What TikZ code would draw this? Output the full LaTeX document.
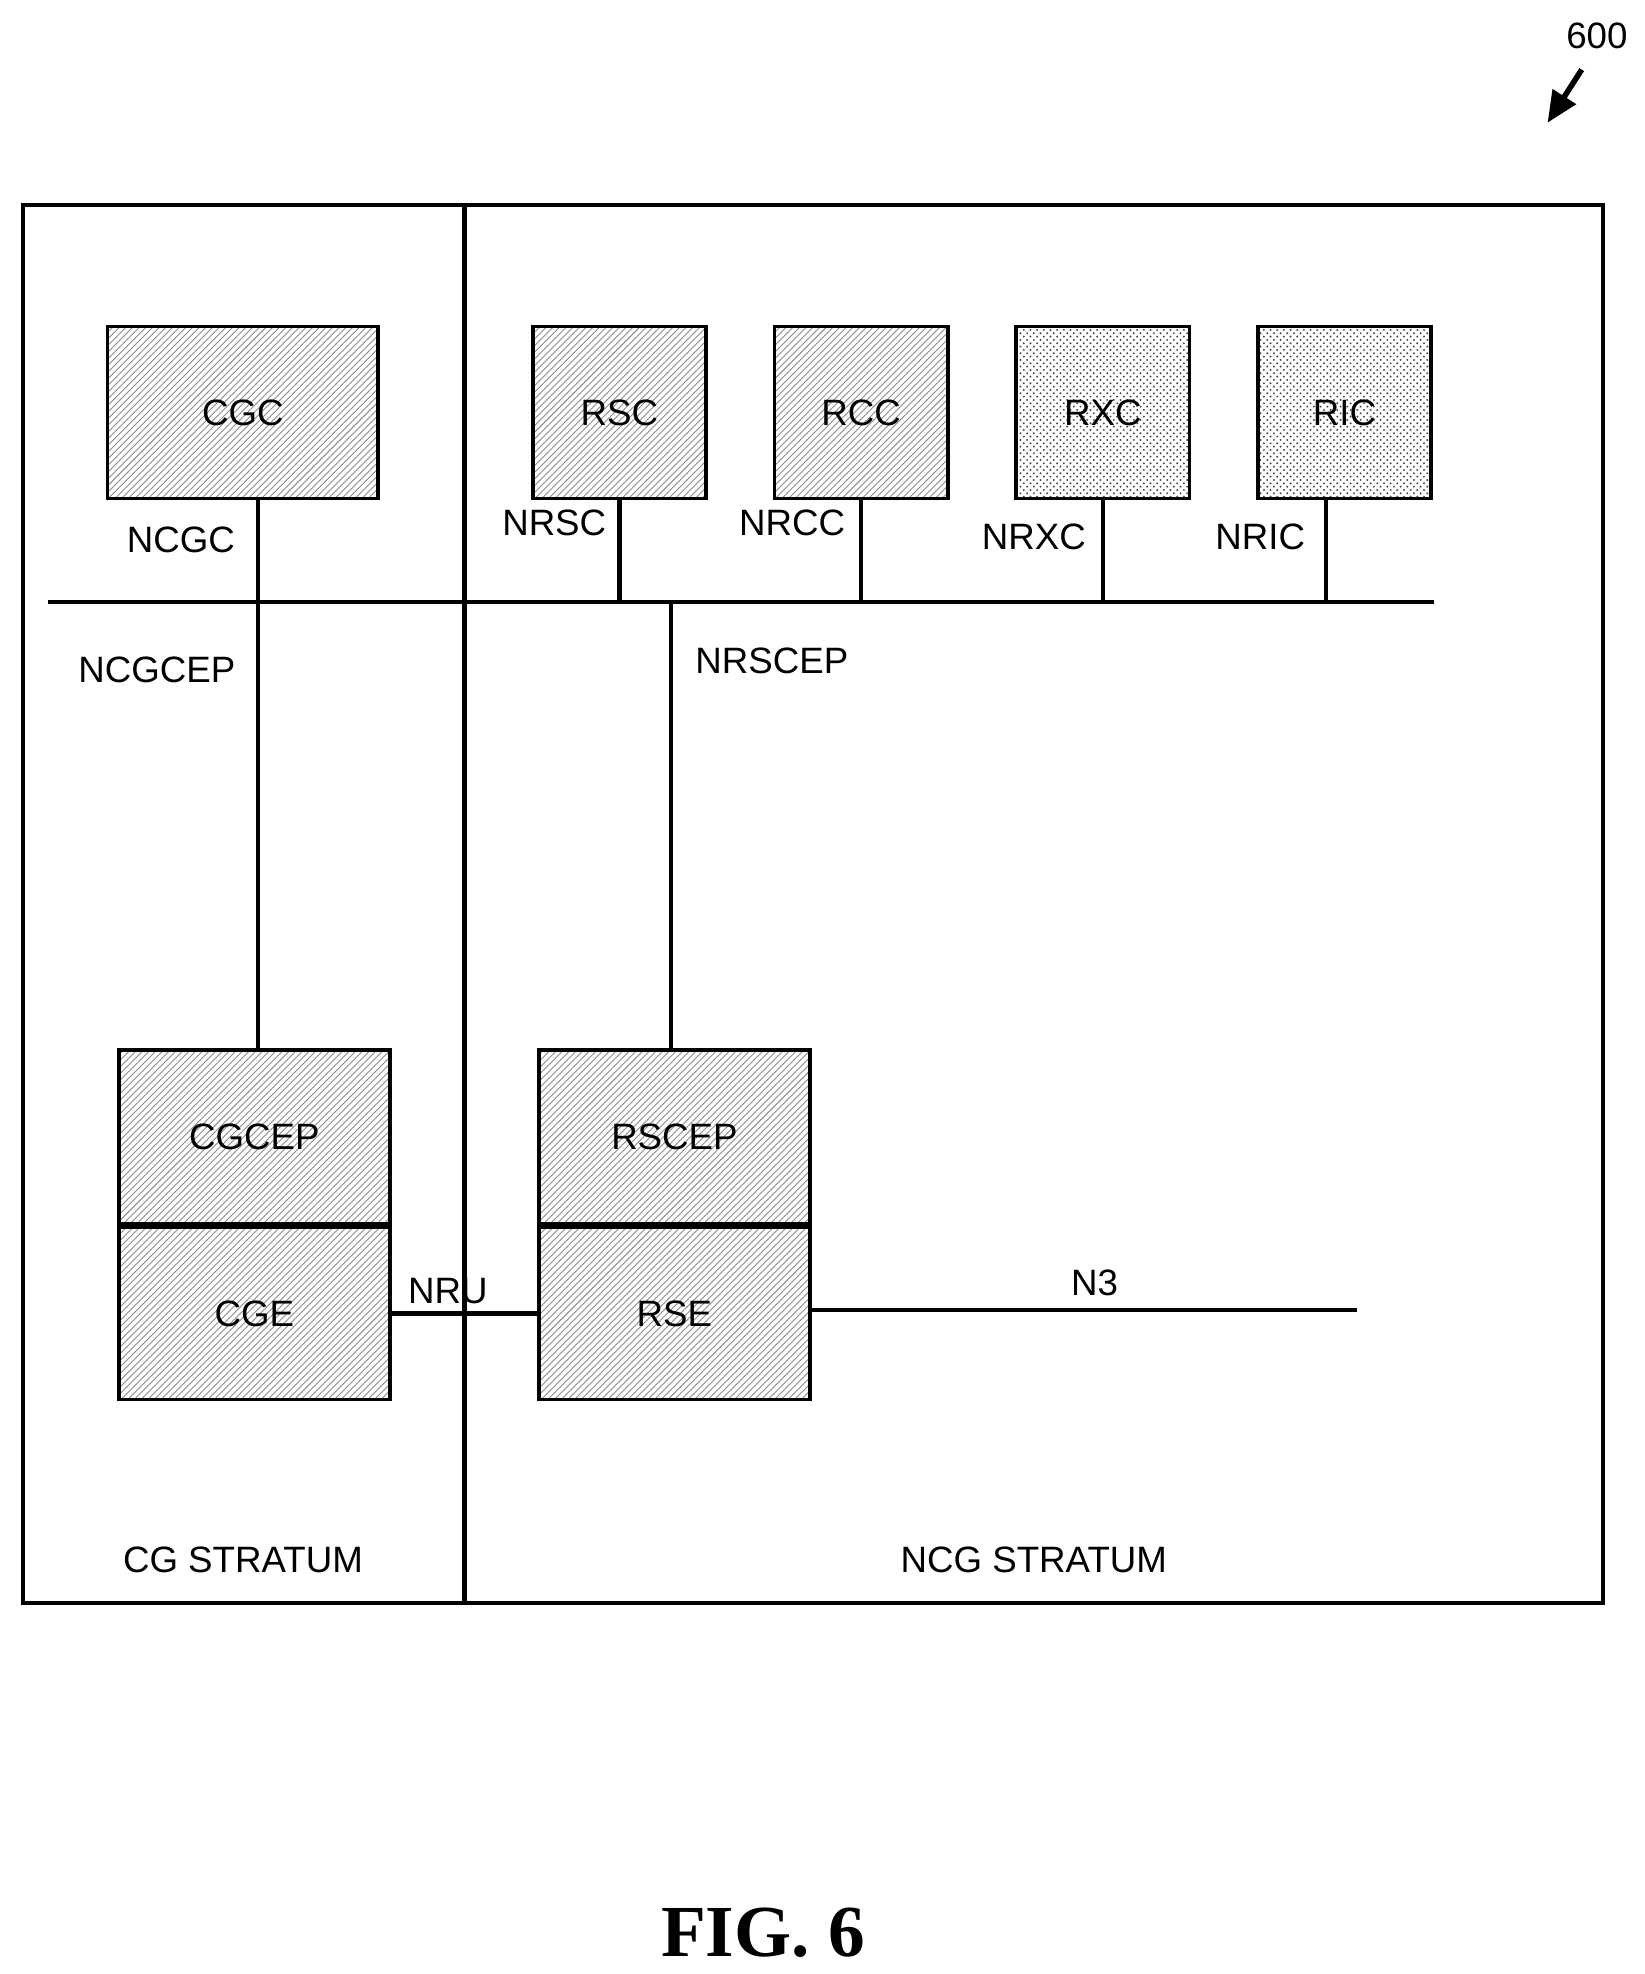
\documentclass[tikz,border=0pt]{standalone}
\usepackage{fontspec}
\setmainfont{Liberation Sans}
\newfontfamily\figfont{Liberation Serif}
\usetikzlibrary{positioning,patterns,arrows.meta}
\tikzset{
  blk/.style={draw,line width=1.7pt,pattern=north east lines,pattern color=black!45,
    inner sep=0pt,font=\fontsize{16.5}{20}\selectfont},
  dotblk/.style={blk,pattern=crosshatch dots,pattern color=black!70},
  lbl/.style={font=\fontsize{16.5}{20}\selectfont,inner sep=0pt},
  wire/.style={line width=1.9pt}
}
\begin{document}
\begin{tikzpicture}[x=0.02cm,y=-0.02cm]
\useasboundingbox (0,0) rectangle (1300,1560);
% strata
\draw[wire] (18,162) rectangle (1267,1267);
\coordinate (divT) at (367,162);
\coordinate (divB) at (367,1267);
\draw[wire] (divT) -- (divB);
% controllers
\node[blk,minimum width=4.28cm,minimum height=2.72cm] (CGC) at (192,326) {CGC};
\node[blk,minimum width=2.74cm,minimum height=2.72cm] (RSC) at (489.5,326) {RSC};
\node[blk,minimum width=2.74cm,minimum height=2.72cm] (RCC) at (680.5,326) {RCC};
\node[dotblk,minimum width=2.74cm,minimum height=2.72cm] (RXC) at (871.5,326) {RXC};
\node[dotblk,minimum width=2.74cm,minimum height=2.72cm] (RIC) at (1062.5,326) {RIC};
% bus
\coordinate (busL) at (38,476);
\coordinate (busR) at (1133,476);
\draw[wire] (busL) -- (busR);
% elements
\node[blk,minimum width=4.28cm,minimum height=2.74cm] (CGCEP) at (201,898.5) {CGCEP};
\node[blk,minimum width=4.28cm,minimum height=2.72cm,below=0pt of CGCEP] (CGE) {CGE};
\node[blk,minimum width=4.28cm,minimum height=2.74cm] (RSCEP) at (533,898.5) {RSCEP};
\node[blk,minimum width=4.28cm,minimum height=2.72cm,below=0pt of RSCEP] (RSE) {RSE};
% links
\draw[wire] (CGC.south -| 204,0) -- (CGCEP.north -| 204,0);
\draw[wire] (RSC.south) -- (RSC.south |- busR);
\draw[wire] (RCC.south) -- (RCC.south |- busR);
\draw[wire] (RXC.south) -- (RXC.south |- busR);
\draw[wire] (1048,394) -- (1048,476);
\draw[wire] (530,476) -- (RSCEP.north -| 530,0);
\draw[wire] (CGE) -- (RSE);
\coordinate (n3end) at (1072,1035);
\draw[wire] (RSE.east |- n3end) -- (n3end);
% labels
\node[lbl] (lNCGC) at (143,427) {NCGC};
\node[lbl] (lNRSC) at (438,413) {NRSC};
\node[lbl] (lNRCC) at (626,413) {NRCC};
\node[lbl] (lNRXC) at (817,424) {NRXC};
\node[lbl] (lNRIC) at (996,424) {NRIC};
\node[lbl] (lNCGCEP) at (124,529) {NCGCEP};
\node[lbl] (lNRSCEP) at (610,522) {NRSCEP};
\node[lbl] (lNRU) at (354,1020) {NRU};
\node[lbl] (lN3) at (865,1014) {N3};
\node[lbl] (lCG) at (192,1233) {CG STRATUM};
\node[lbl] (lNCG) at (817,1233) {NCG STRATUM};
% figure number
\node[lbl] (ref) at (1262,28) {600};
\coordinate (refTip) at (1223,97);
\draw[line width=2.5pt,-{Triangle[length=14pt,width=12pt]}] (1250,55) -- (refTip);
\node[font=\figfont\bfseries\fontsize{33}{36}\selectfont] (fig) at (603,1527) {FIG. 6};
\end{tikzpicture}
\end{document}
